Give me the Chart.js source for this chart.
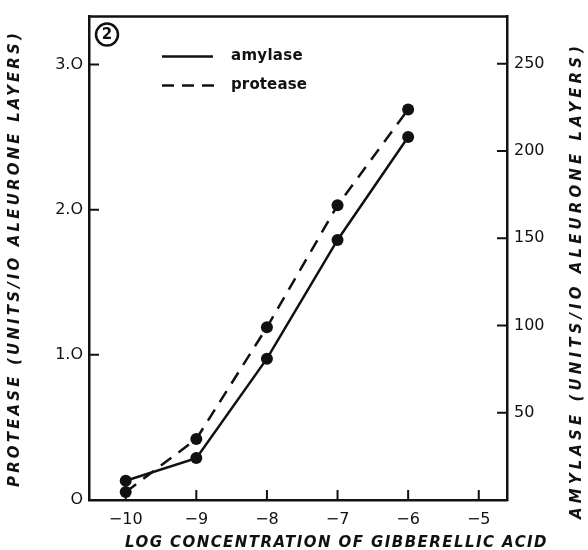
<!DOCTYPE html>
<html>
<head>
<meta charset="utf-8">
<script src="https://cdn.jsdelivr.net/npm/chart.js@4.4.1/dist/chart.umd.min.js"></script>
<style>
  html, body { margin: 0; padding: 0; background: #fff; }
</style>
</head>
<body>
<canvas id="chart" width="588" height="550"></canvas>
<script>
// values (log molar GA3 vs. enzyme units per 10 layers)
const logConc = [-10, -9, -8, -7, -6];
const amylase = [11, 24, 81, 149, 208];
const protease = [0.055, 0.42, 1.19, 2.03, 2.69];

const xTicks = [-10, -9, -8, -7, -6, -5];
const proteaseTicks = [0, 1, 2, 3];
const amylaseTicks = [50, 100, 150, 200, 250];

const xTitle = 'LOG CONCENTRATION OF GIBBERELLIC ACID';
const leftTitle = 'PROTEASE (UNITS/IO ALEURONE LAYERS)';
const rightTitle = 'AMYLASE (UNITS/IO ALEURONE LAYERS)';

const ink = '#111';
const tickFont = { family: 'DejaVu Sans', size: 16 };

// draw text stretched to a given width using letter spacing
function spacedText(ctx, text, x, y, width) {
    ctx.letterSpacing = '0px';
    const w0 = ctx.measureText(text).width;
    const sp = (width - w0) / text.length;
    ctx.letterSpacing = sp + 'px';
    ctx.fillText(text, x, y);
    ctx.letterSpacing = '0px';
}

const decorations = {
    id: 'decorations',
    afterDraw(chart) {
        const { ctx, chartArea: a, scales } = chart;
        ctx.save();
        ctx.strokeStyle = ink;
        ctx.fillStyle = ink;
        ctx.lineWidth = 2.5;

        // top edge of the box
        ctx.beginPath();
        ctx.moveTo(a.left - 1, a.top);
        ctx.lineTo(a.right + 1, a.top);
        ctx.stroke();

        // inward tick marks
        ctx.lineWidth = 2;
        ctx.beginPath();
        scales.y.ticks.forEach(t => {
            if (t.value === 0) return;
            const py = scales.y.getPixelForValue(t.value);
            ctx.moveTo(a.left, py); ctx.lineTo(a.left + 10, py);
        });
        scales.y2.ticks.forEach(t => {
            const py = scales.y2.getPixelForValue(t.value);
            ctx.moveTo(a.right - 10, py); ctx.lineTo(a.right, py);
        });
        scales.x.ticks.forEach(t => {
            const px = scales.x.getPixelForValue(t.value);
            ctx.moveTo(px, a.bottom); ctx.lineTo(px, a.bottom - 10);
        });
        ctx.stroke();

        // axis titles
        ctx.font = 'italic bold 15px "DejaVu Sans"';
        ctx.textBaseline = 'middle';
        ctx.textAlign = 'left';
        spacedText(ctx, xTitle, 125, 543, 423);

        ctx.save();
        ctx.translate(15, 487);
        ctx.rotate(-Math.PI / 2);
        spacedText(ctx, leftTitle, 0, 0, 457);
        ctx.restore();

        ctx.save();
        ctx.translate(577, 519);
        ctx.rotate(-Math.PI / 2);
        spacedText(ctx, rightTitle, 0, 0, 477);
        ctx.restore();

        // legend inside the box
        const lx = a.left + 73, ly = a.top + 40;
        ctx.lineWidth = 2.5;
        ctx.beginPath();
        ctx.moveTo(lx, ly); ctx.lineTo(lx + 51, ly);
        ctx.stroke();
        ctx.setLineDash([12, 8]);
        ctx.beginPath();
        ctx.moveTo(lx, ly + 29); ctx.lineTo(lx + 52, ly + 29);
        ctx.stroke();
        ctx.setLineDash([]);
        ctx.font = 'bold 15px "DejaVu Sans"';
        ctx.textAlign = 'left';
        spacedText(ctx, 'amylase', lx + 69, ly, 72);
        spacedText(ctx, 'protease', lx + 69, ly + 29, 76);

        // panel number
        ctx.lineWidth = 2.5;
        ctx.beginPath();
        ctx.arc(a.left + 18, a.top + 18, 11, 0, Math.PI * 2);
        ctx.stroke();
        ctx.font = 'bold 15px "DejaVu Sans"';
        ctx.textAlign = 'center';
        ctx.fillText('2', a.left + 18, a.top + 19);
        ctx.restore();
    }
};

new Chart(document.getElementById('chart'), {
    type: 'line',
    data: {
        datasets: [
            {
                label: 'amylase',
                data: logConc.map((x, i) => ({ x, y: amylase[i] })),
                yAxisID: 'y2',
                borderColor: ink,
                backgroundColor: ink,
                borderWidth: 2.5,
                pointRadius: 6,
                pointBorderWidth: 0,
                pointHoverRadius: 6,
                tension: 0
            },
            {
                label: 'protease',
                data: logConc.map((x, i) => ({ x, y: protease[i] })),
                yAxisID: 'y',
                borderColor: ink,
                backgroundColor: ink,
                borderWidth: 2.5,
                borderDash: [13, 9],
                pointRadius: 6,
                pointBorderWidth: 0,
                pointHoverRadius: 6,
                tension: 0
            }
        ]
    },
    options: {
        responsive: false,
        animation: false,
        layout: { padding: { top: 12, left: 0, right: 0, bottom: 0 } },
        plugins: {
            legend: { display: false },
            tooltip: { enabled: false }
        },
        scales: {
            x: {
                type: 'linear',
                min: -10.52,
                max: -4.6,
                afterBuildTicks: s => { s.ticks = xTicks.map(v => ({ value: v })); },
                afterFit: s => { s.height = 50; },
                grid: { drawOnChartArea: false, drawTicks: false },
                border: { display: true, color: ink, width: 2.5 },
                ticks: {
                    color: ink,
                    font: tickFont,
                    padding: 10,
                    callback: v => '\u2212' + Math.abs(v)
                }
            },
            y: {
                position: 'left',
                min: 0,
                max: 3.33,
                afterBuildTicks: s => { s.ticks = proteaseTicks.map(v => ({ value: v })); },
                afterFit: s => { s.width = 89; },
                grid: { drawOnChartArea: false, drawTicks: false },
                border: { display: true, color: ink, width: 2.5 },
                ticks: {
                    color: ink,
                    font: tickFont,
                    padding: 6,
                    callback: v => v === 0 ? 'O' : v.toFixed(1).replace('0', 'O')
                }
            },
            y2: {
                position: 'right',
                min: 0,
                max: 277,
                afterBuildTicks: s => { s.ticks = amylaseTicks.map(v => ({ value: v })); },
                afterFit: s => { s.width = 81; },
                grid: { drawOnChartArea: false, drawTicks: false },
                border: { display: true, color: ink, width: 2.5 },
                ticks: {
                    color: ink,
                    font: tickFont,
                    padding: 7
                }
            }
        }
    },
    plugins: [decorations]
});
</script>
</body>
</html>
